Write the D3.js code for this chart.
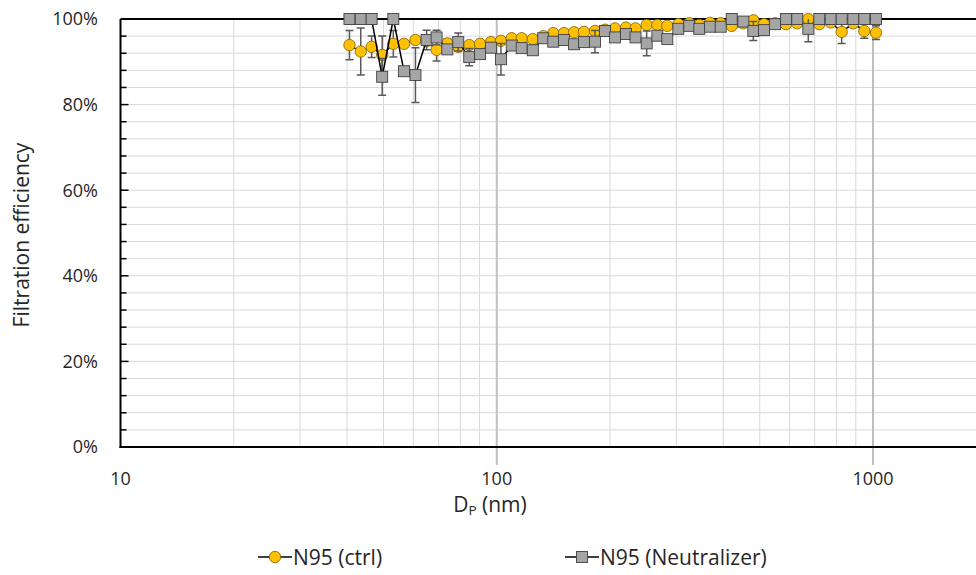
<!DOCTYPE html>
<html>
<head>
<meta charset="utf-8">
<script src="https://cdn.jsdelivr.net/npm/d3@7"></script>
<style>
  html, body { margin: 0; padding: 0; background: #fff; }
  svg { display: block; font-family: "Open Sans", Lato, sans-serif; }
</style>
</head>
<body>
<svg id="chart" width="976" height="575"></svg>
<script>
// Particle mobility diameter (nm) of each size bin
const diameters = [40.6, 43.5, 46.5, 49.6, 53.1, 56.7, 60.8, 65.1, 69.2, 73.9,
  79.0, 84.5, 90.3, 96.5, 102.6, 109.6, 116.5, 124.7, 132.9, 141.3,
  150.9, 160.5, 170.5, 182.4, 194.0, 206.2, 220.6, 233.8, 250.3, 267.2,
  284.0, 303.8, 324.9, 345.4, 368.8, 393.7, 421.2, 452.2, 480.8, 513.3,
  549.0, 587.2, 629.1, 673.0, 720.0, 772.0, 825.7, 886.5, 948.2, 1018.5];

// N95 (ctrl): filtration efficiency and standard deviation
const ctrlValues = [0.939, 0.924, 0.935, 0.916, 0.942, 0.942, 0.951, 0.948, 0.928, 0.943,
  0.935, 0.939, 0.942, 0.946, 0.949, 0.955, 0.955, 0.953, 0.960, 0.967,
  0.967, 0.969, 0.970, 0.972, 0.975, 0.978, 0.980, 0.978, 0.986, 0.986,
  0.984, 0.988, 0.990, 0.986, 0.991, 0.990, 0.984, 0.990, 0.997, 0.988,
  0.990, 0.988, 0.990, 1.000, 0.988, 0.992, 0.970, 0.990, 0.972, 0.968];
const ctrlErrors = [0.034, 0.055, 0.025, 0.044, 0.031, 0.008, 0.008, 0.008, 0.026, 0.010,
  0.010, 0.008, 0.008, 0.008, 0.008, 0.006, 0.006, 0.006, 0.006, 0.006,
  0.006, 0.006, 0.006, 0.006, 0.006, 0.006, 0.006, 0.006, 0.006, 0.006,
  0.006, 0.006, 0.006, 0.006, 0.006, 0.006, 0.006, 0.006, 0.003, 0.006,
  0.006, 0.006, 0.006, 0.000, 0.006, 0.006, 0.027, 0.006, 0.017, 0.016];

// N95 (Neutralizer): filtration efficiency and standard deviation
const neutValues = [1.000, 1.000, 1.000, 0.865, 1.000, 0.878, 0.869, 0.951, 0.957, 0.929,
  0.946, 0.911, 0.918, 0.933, 0.906, 0.938, 0.932, 0.927, 0.955, 0.947,
  0.951, 0.941, 0.946, 0.947, 0.972, 0.957, 0.965, 0.957, 0.943, 0.961,
  0.953, 0.977, 0.984, 0.977, 0.982, 0.982, 1.000, 0.994, 0.972, 0.974,
  0.988, 1.000, 1.000, 0.977, 1.000, 1.000, 1.000, 1.000, 1.000, 1.000];
const neutErrors = [0.000, 0.000, 0.000, 0.043, 0.000, 0.010, 0.064, 0.023, 0.017, 0.008,
  0.021, 0.020, 0.008, 0.008, 0.037, 0.008, 0.008, 0.008, 0.008, 0.008,
  0.008, 0.008, 0.008, 0.026, 0.008, 0.008, 0.008, 0.008, 0.029, 0.008,
  0.008, 0.008, 0.008, 0.008, 0.008, 0.008, 0.000, 0.004, 0.022, 0.008,
  0.008, 0.000, 0.000, 0.030, 0.000, 0.000, 0.000, 0.000, 0.000, 0.000];

const seriesNames = ["N95 (ctrl)", "N95 (Neutralizer)"];
const xMajorTicks = [10, 100, 1000];
const xMinorTicks = [20, 30, 40, 50, 60, 70, 80, 90, 200, 300, 400, 500, 600, 700, 800, 900, 2000];
const yMajorTicks = [0, 0.2, 0.4, 0.6, 0.8, 1.0];
const yMinorTicks = d3.range(0, 25).map(i => i * 4 / 100);

const svg = d3.select("#chart");
const plotLeft = 120.5, plotTop = 19, plotBottom = 447, plotRight = 976;
const textColor = "#262626";

const x = d3.scaleLog().domain([10, 1000]).range([plotLeft, 873]);
const y = d3.scaleLinear().domain([0, 1]).range([plotBottom, plotTop]);

const pct = d3.format(".0%");

// clip region for the plot area
svg.append("defs").append("clipPath").attr("id", "plotClip")
  .append("rect").attr("x", plotLeft).attr("y", plotTop - 8)
  .attr("width", plotRight - plotLeft).attr("height", plotBottom - plotTop + 8);

// horizontal gridlines
svg.append("g").selectAll("line").data(yMinorTicks.filter(v => v > 0)).join("line")
  .attr("x1", plotLeft).attr("x2", plotRight)
  .attr("y1", d => y(d)).attr("y2", d => y(d))
  .attr("stroke", "#d9d9d9").attr("stroke-width", 1);

// vertical gridlines
svg.append("g").selectAll("line").data(xMinorTicks.filter(v => x(v) < plotRight)).join("line")
  .attr("x1", d => x(d)).attr("x2", d => x(d))
  .attr("y1", plotTop).attr("y2", plotBottom)
  .attr("stroke", "#d9d9d9").attr("stroke-width", 1);
svg.append("g").selectAll("line").data(xMajorTicks.slice(1)).join("line")
  .attr("x1", d => x(d)).attr("x2", d => x(d))
  .attr("y1", plotTop).attr("y2", plotBottom + 18)
  .attr("stroke", "#bfbfbf").attr("stroke-width", 2);

// top border
svg.append("line").attr("x1", plotLeft).attr("x2", plotRight).attr("y1", plotTop).attr("y2", plotTop)
  .attr("stroke", "#000").attr("stroke-width", 2);

// y axis with inside ticks
svg.append("g").selectAll("line").data(yMinorTicks).join("line")
  .attr("x1", plotLeft).attr("x2", d => plotLeft + (yMajorTicks.some(m => Math.abs(m - d) < 1e-9) ? 8 : 6))
  .attr("y1", d => y(d)).attr("y2", d => y(d))
  .attr("stroke", "#000").attr("stroke-width", 1.5);
svg.append("line").attr("x1", plotLeft).attr("x2", plotLeft).attr("y1", plotTop).attr("y2", plotBottom + 1)
  .attr("stroke", "#000").attr("stroke-width", 2);
svg.append("line").attr("x1", plotLeft - 1).attr("x2", plotRight).attr("y1", plotBottom).attr("y2", plotBottom)
  .attr("stroke", "#000").attr("stroke-width", 2);

// y tick labels
svg.append("g").selectAll("text").data(yMajorTicks).join("text")
  .attr("x", 98).attr("y", d => y(d)).attr("dy", "0.36em")
  .attr("text-anchor", "end").attr("font-size", 18).attr("fill", textColor)
  .text(d => pct(d));

// x tick labels
svg.append("g").selectAll("text").data(xMajorTicks).join("text")
  .attr("x", d => x(d)).attr("y", 479).attr("dy", "0.36em")
  .attr("text-anchor", "middle").attr("font-size", 18).attr("fill", textColor)
  .text(d => d);

// axis titles
const xt = svg.append("text").attr("x", 490).attr("y", 512)
  .attr("text-anchor", "middle").attr("font-size", 21).attr("fill", textColor);
xt.append("tspan").text("D");
xt.append("tspan").attr("font-size", 13.5).attr("dy", 3).text("P");
xt.append("tspan").attr("dy", -3).text(" (nm)");

svg.append("text").attr("transform", "translate(29,235) rotate(-90)")
  .attr("text-anchor", "middle").attr("font-size", 21).attr("fill", textColor)
  .text("Filtration efficiency");

const plot = svg.append("g").attr("clip-path", "url(#plotClip)");
const line = d3.line().x(d => x(d.d)).y(d => y(d.v));

function drawSeries(values, errors, kind) {
  const data = diameters.map((d, i) => ({ d, v: values[i], e: errors[i] }));
  const g = plot.append("g");
  // error bars
  const eb = g.append("g").attr("stroke", "#595959").attr("stroke-width", 1.5);
  data.filter(p => p.e > 0).forEach(p => {
    const cx = x(p.d), y1 = y(Math.min(1, p.v + p.e)), y2 = y(p.v - p.e);
    eb.append("line").attr("x1", cx).attr("x2", cx).attr("y1", y1).attr("y2", y2);
    if (p.v + p.e <= 1) eb.append("line").attr("x1", cx - 4).attr("x2", cx + 4).attr("y1", y1).attr("y2", y1);
    eb.append("line").attr("x1", cx - 4).attr("x2", cx + 4).attr("y1", y2).attr("y2", y2);
  });
  g.append("path").datum(data).attr("d", line)
    .attr("fill", "none").attr("stroke", "#000").attr("stroke-width", 1.5);
  if (kind === "circle") {
    g.append("g").selectAll("circle").data(data).join("circle")
      .attr("cx", p => x(p.d)).attr("cy", p => y(p.v)).attr("r", 5.7)
      .attr("fill", "#ffc000").attr("stroke", "#7f6000").attr("stroke-width", 0.8);
  } else {
    g.append("g").selectAll("rect").data(data).join("rect")
      .attr("x", p => x(p.d) - 5.5).attr("y", p => y(p.v) - 5.5)
      .attr("width", 11).attr("height", 11)
      .attr("fill", "#a5a5a5").attr("stroke", "#404040").attr("stroke-width", 0.9);
  }
}

drawSeries(ctrlValues, ctrlErrors, "circle");
drawSeries(neutValues, neutErrors, "square");

// legend
const legendItems = [
  { name: seriesNames[0], kind: "circle", x0: 258 },
  { name: seriesNames[1], kind: "square", x0: 565 }
];
const lg = svg.append("g");
legendItems.forEach(it => {
  const ly = 557;
  lg.append("line").attr("x1", it.x0).attr("x2", it.x0 + 34).attr("y1", ly).attr("y2", ly)
    .attr("stroke", "#000").attr("stroke-width", 1.5);
  if (it.kind === "circle") {
    lg.append("circle").attr("cx", it.x0 + 17).attr("cy", ly).attr("r", 5.7)
      .attr("fill", "#ffc000").attr("stroke", "#7f6000").attr("stroke-width", 0.8);
  } else {
    lg.append("rect").attr("x", it.x0 + 11.5).attr("y", ly - 5.5).attr("width", 11).attr("height", 11)
      .attr("fill", "#a5a5a5").attr("stroke", "#404040").attr("stroke-width", 0.9);
  }
  lg.append("text").attr("x", it.x0 + 35).attr("y", ly).attr("dy", "0.36em")
    .attr("font-size", 21).attr("fill", textColor).text(it.name);
});
</script>
</body>
</html>
